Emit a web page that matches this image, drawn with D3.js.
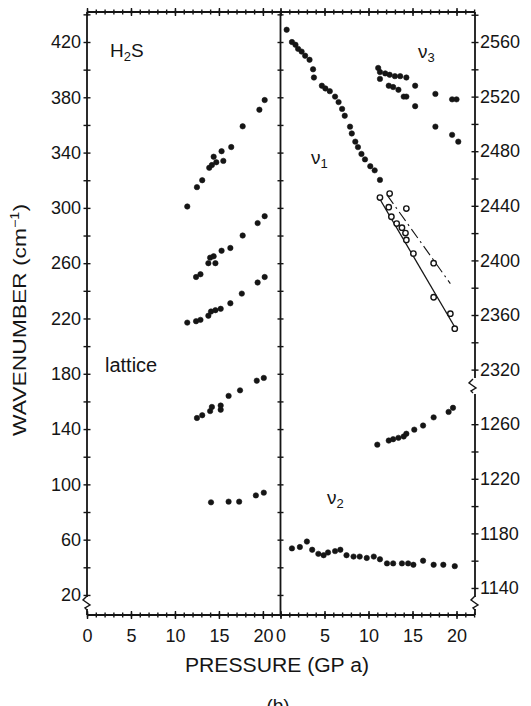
<!DOCTYPE html>
<html>
<head>
<meta charset="utf-8">
<script src="https://cdn.jsdelivr.net/npm/d3@7"></script>
<style>
  body { margin: 0; background: #fff; }
  text { font-family: "Liberation Sans", Arial, sans-serif; fill: #151515; }
</style>
</head>
<body>
<div id="chart"></div>
<script>
// ---- data: [pressure GPa, wavenumber cm-1] ----
// left panel, lattice modes
var latticeA = [[11.4,301],[12.5,315],[13.1,320],[13.9,329],[14.2,331],[14.4,337],[14.7,333],[15.3,341],[15.5,334],[16.4,344],[17.7,359],[19.6,371],[20.2,378]];
var latticeB = [[12.4,250],[12.9,252],[13.8,260],[14.0,264],[14.4,265],[14.6,260],[15.3,269],[16.3,271],[17.7,280],[19.4,289],[20.2,294]];
var latticeC = [[11.4,217],[12.4,218],[12.9,219],[13.8,222],[14.1,225],[14.6,226],[15.2,227],[16.3,231],[17.6,238],[19.4,246],[20.2,250]];
var latticeD = [[12.5,148],[13.1,150],[14.0,153],[14.2,156],[15.2,154],[15.2,157],[16.1,164],[17.4,168],[19.3,175],[20.1,177]];
var latticeE = [[14.1,87],[16.1,87.5],[17.3,87.5],[19.2,92],[20.1,94]];

// right panel, internal modes
var nu1 = [[0.7,2569],[1.3,2560],[1.7,2558],[2.0,2555],[2.4,2553],[2.8,2550],[3.3,2547],[3.7,2540],[3.8,2534],[4.7,2528],[5.1,2526],[5.6,2524],[6.2,2520],[6.6,2516],[7.0,2511],[7.3,2506],[7.9,2498],[8.1,2493],[8.5,2487],[8.8,2483],[9.2,2478],[9.6,2474],[10.2,2469],[10.7,2466],[11.3,2459]];
var nu1Low = [[11.3,2446],[12.3,2439],[12.6,2432],[13.2,2427],[13.8,2424],[14.2,2420],[14.3,2415],[15.1,2405],[17.4,2373],[19.3,2361],[19.8,2350]];
var nu1High = [[12.4,2449],[14.3,2438],[17.4,2398]];
var nu1FitSolid = [[11.1,2447],[20.0,2349]];
var nu1FitDash = [[12.1,2448],[19.3,2383]];
var nu3A = [[11.1,2541],[11.3,2538],[11.3,2533],[11.9,2537],[12.4,2536],[13.0,2535],[13.6,2535],[14.3,2534],[15.3,2528],[17.6,2522],[19.5,2518],[20.0,2518]];
var nu3B = [[12.3,2528],[12.8,2527],[13.4,2525],[14.0,2520],[14.3,2520],[15.3,2513],[17.6,2498],[19.5,2492],[20.2,2487]];
var nuMid = [[11.0,1245],[12.3,1248],[12.8,1249],[13.4,1250],[14.0,1251],[14.3,1253],[15.2,1256],[16.2,1259],[17.4,1265],[19.1,1269],[19.6,1272]];
var nu2 = [[1.3,1169],[2.2,1170],[3.0,1174],[3.6,1168],[4.3,1165],[4.9,1164],[5.4,1166],[6.2,1167],[6.8,1168],[7.5,1164],[8.3,1163],[9.0,1163],[9.8,1162],[10.6,1163],[11.3,1161],[12.1,1158],[12.8,1158],[13.8,1158],[14.5,1158],[15.1,1157],[16.2,1160],[17.4,1157],[18.5,1157],[19.8,1156]];

// tick labels
var xLabels = [0, 5, 10, 15, 20];
var yLabelsLeft = [20, 60, 100, 140, 180, 220, 260, 300, 340, 380, 420];
var yLabelsRight = [1140, 1180, 1220, 1260, 2320, 2360, 2400, 2440, 2480, 2520, 2560];
var breakShift = 1020;   // lower band of right axis is drawn shifted up by this much

var svg = d3.select("#chart")
  .append("svg")
  .attr("width", 531)
  .attr("height", 706);

var plotTop = 12, plotBottom = 615, leftX = 87, midX = 280.5, rightX = 475;
var ink = "#151515";

var xLeft = d3.scaleLinear().domain([0, 22]).range([leftX, midX]);
var xRight = d3.scaleLinear().domain([0, 22.1]).range([midX, rightX]);
var yLeft = d3.scaleLinear().domain([5.5, 441.7]).range([plotBottom, plotTop]);
var yRight = d3.scaleLinear().domain([2140.2, 2582]).range([plotBottom, plotTop]);
var plotR = v => v < 2000 ? v + breakShift : v;

// ---- frame lines ----
var frame = svg.append("g").attr("stroke", ink).attr("stroke-width", 1.8).attr("fill", "none");
frame.append("line").attr("x1", leftX).attr("x2", rightX).attr("y1", plotTop).attr("y2", plotTop);
frame.append("line").attr("x1", leftX).attr("x2", rightX).attr("y1", plotBottom).attr("y2", plotBottom);
frame.append("line").attr("x1", midX).attr("x2", midX).attr("y1", plotTop).attr("y2", plotBottom);
// left axis with break at bottom
frame.append("line").attr("x1", leftX).attr("x2", leftX).attr("y1", plotTop).attr("y2", 597);
frame.append("line").attr("x1", leftX).attr("x2", leftX).attr("y1", 609).attr("y2", plotBottom);
// right axis with two breaks
frame.append("line").attr("x1", rightX).attr("x2", rightX).attr("y1", plotTop).attr("y2", 378);
frame.append("line").attr("x1", rightX).attr("x2", rightX).attr("y1", 394).attr("y2", 597);
frame.append("line").attr("x1", rightX).attr("x2", rightX).attr("y1", 609).attr("y2", plotBottom);

function zig(x, y) {
  return `M${x},${y - 7} L${x - 4},${y - 3} L${x + 3},${y + 2} L${x - 2},${y + 5} L${x},${y + 7}`;
}
frame.append("path").attr("d", zig(leftX, 603)).attr("stroke-width", 1.4);
frame.append("path").attr("d", zig(rightX - 2, 386)).attr("stroke-width", 1.4);
frame.append("path").attr("d", zig(rightX, 603)).attr("stroke-width", 1.4);

// ---- axes ----
function styleAxis(g, attr, len) {
  g.select(".domain").remove();
  g.selectAll(".tick line").attr("stroke", ink).attr("stroke-width", 1.4).attr(attr, len);
  g.selectAll(".tick text").attr("fill", ink);
  g.attr("font-size", 18).attr("font-family", '"Liberation Sans", Arial, sans-serif');
}

var minorX = d3.range(0, 23, 1);

[xLeft, xRight].forEach(function(sc) {
  var minor = minorX.filter(d => d <= sc.domain()[1]);
  // bottom: minor + labelled major
  svg.append("g").attr("transform", `translate(0,${plotBottom})`)
    .call(d3.axisBottom(sc).tickValues(minor).tickSize(2.5).tickFormat(""))
    .call(g => styleAxis(g, "y1", -2.5));
  svg.append("g").attr("transform", `translate(0,${plotBottom})`)
    .call(d3.axisBottom(sc).tickValues(xLabels).tickSize(4))
    .call(g => styleAxis(g, "y1", -4))
    .call(g => g.selectAll(".tick text").attr("y", 27).attr("dy", 0));
  // top: ticks only
  svg.append("g").attr("transform", `translate(0,${plotTop})`)
    .call(d3.axisTop(sc).tickValues(minor).tickSize(2.5).tickFormat(""))
    .call(g => styleAxis(g, "y1", 2.5));
  svg.append("g").attr("transform", `translate(0,${plotTop})`)
    .call(d3.axisTop(sc).tickValues(xLabels).tickSize(4).tickFormat(""))
    .call(g => styleAxis(g, "y1", 4));
});

// left axis: ticks every 20, labels every 40
svg.append("g").attr("transform", `translate(${leftX},0)`)
  .call(d3.axisLeft(yLeft).tickValues(d3.range(20, 441, 20)).tickSize(3.5)
    .tickFormat(d => yLabelsLeft.includes(d) ? d : ""))
  .call(g => styleAxis(g, "x1", 3.5))
  .call(g => g.selectAll(".tick text").attr("x", -6));

// divider ticks
svg.append("g").attr("transform", `translate(${midX},0)`)
  .call(d3.axisLeft(yLeft).tickValues(d3.range(20, 441, 20)).tickSize(3).tickFormat(""))
  .call(g => styleAxis(g, "x1", 3));

// right axis with shifted lower band
var rightTicks = d3.range(2160, 2581, 20).filter(d => d !== 2300);
svg.append("g").attr("transform", `translate(${rightX},0)`)
  .call(d3.axisRight(yRight).tickValues(rightTicks).tickSize(3.5)
    .tickFormat(d => {
      var v = d <= 2290 ? d - breakShift : d;
      return yLabelsRight.includes(v) ? v : "";
    }))
  .call(g => styleAxis(g, "x1", -3.5))
  .call(g => g.selectAll(".tick text").attr("x", 5));

// ---- fit lines ----
var lineR = d3.line().x(d => xRight(d[0])).y(d => yRight(plotR(d[1])));
svg.append("path").datum(nu1FitSolid).attr("d", lineR)
  .attr("fill", "none").attr("stroke", ink).attr("stroke-width", 1.3);
svg.append("path").datum(nu1FitDash).attr("d", lineR)
  .attr("fill", "none").attr("stroke", ink).attr("stroke-width", 1.1)
  .attr("stroke-dasharray", "11,4,2,4");

// ---- points ----
function dots(data, xs, ys, open) {
  svg.append("g").selectAll("circle")
    .data(data)
    .enter()
    .append("circle")
    .attr("cx", d => xs(d[0]))
    .attr("cy", d => ys(d[1]))
    .attr("r", 2.7)
    .attr("fill", open ? "#fff" : ink)
    .attr("stroke", ink)
    .attr("stroke-width", open ? 1.4 : 0.6);
}
var yR = v => yRight(plotR(v));

[latticeA, latticeB, latticeC, latticeD, latticeE].forEach(s => dots(s, xLeft, yLeft, false));
[nu1, nu3A, nu3B, nuMid, nu2].forEach(s => dots(s, xRight, yR, false));
dots(nu1Low, xRight, yR, true);
dots(nu1High, xRight, yR, true);

// ---- labels ----
svg.append("text")
  .attr("transform", "translate(26,320) rotate(-90)")
  .attr("text-anchor", "middle")
  .attr("font-size", 19)
  .attr("textLength", 232)
  .attr("lengthAdjust", "spacingAndGlyphs")
  .html('WAVENUMBER (cm<tspan dy="-7" font-size="12">−1</tspan><tspan dy="7">)</tspan>');

svg.append("text")
  .attr("x", 277).attr("y", 672)
  .attr("text-anchor", "middle")
  .attr("font-size", 20)
  .attr("textLength", 184)
  .attr("lengthAdjust", "spacingAndGlyphs")
  .text("PRESSURE (GP a)");

svg.append("text")
  .attr("x", 278).attr("y", 712)
  .attr("text-anchor", "middle")
  .attr("font-size", 19)
  .text("(b)");

svg.append("text").attr("x", 110).attr("y", 57).attr("font-size", 19)
  .html('H<tspan dy="4" font-size="13">2</tspan><tspan dy="-4">S</tspan>');
svg.append("text").attr("x", 105).attr("y", 372).attr("font-size", 20).text("lattice");
svg.append("text").attr("x", 311).attr("y", 164).attr("font-size", 19)
  .html('ν<tspan dy="4" font-size="13">1</tspan>');
svg.append("text").attr("x", 418).attr("y", 58).attr("font-size", 19)
  .html('ν<tspan dy="4" font-size="13">3</tspan>');
svg.append("text").attr("x", 327).attr("y", 504).attr("font-size", 19)
  .html('ν<tspan dy="4" font-size="13">2</tspan>');
</script>
</body>
</html>
